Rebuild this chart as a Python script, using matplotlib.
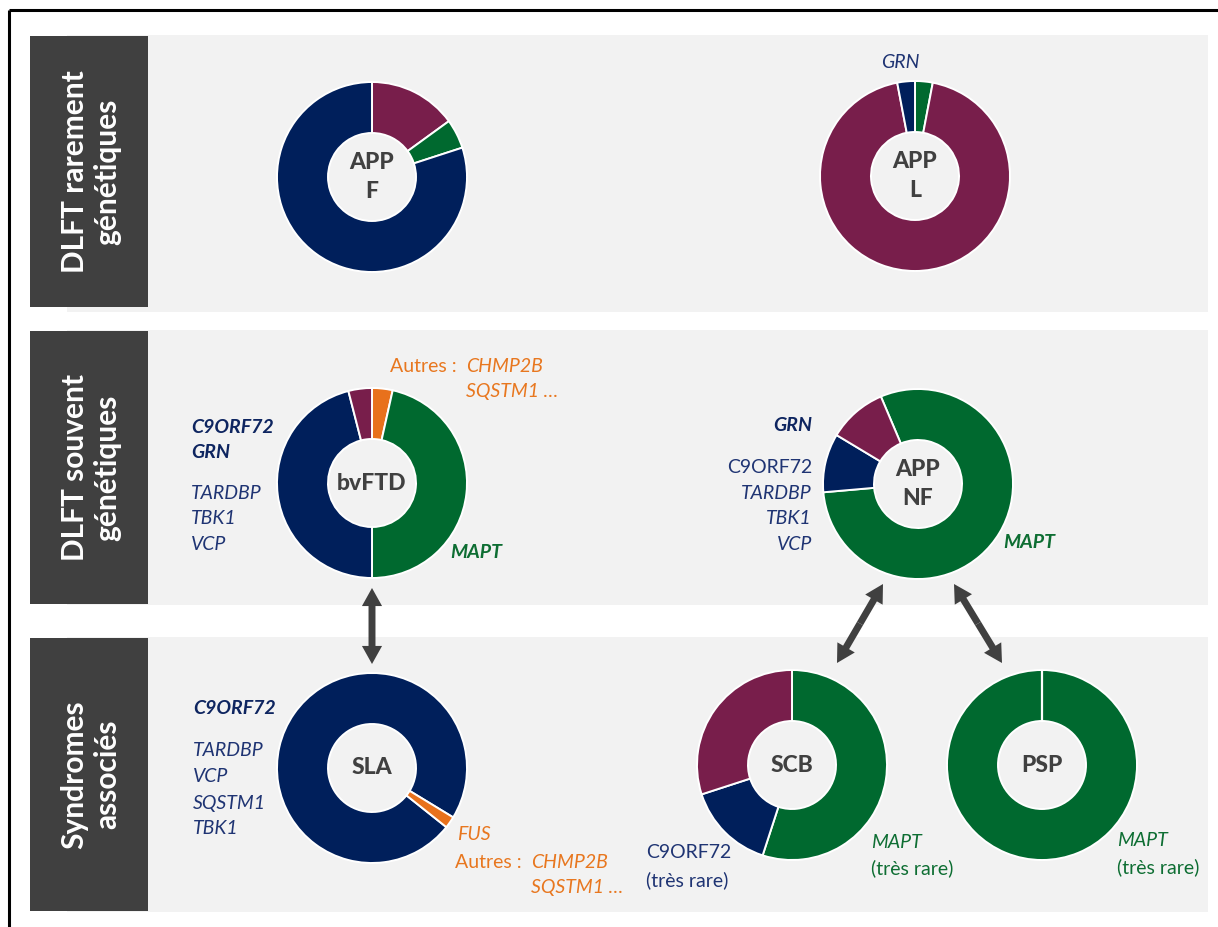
import matplotlib
matplotlib.use("Agg")
import numpy as np
import matplotlib.pyplot as plt
from matplotlib.patches import Rectangle, FancyArrowPatch

# ---------------- data ----------------
group_colors = {
    "bleu": "#001F5B",
    "bordeaux": "#781E4B",
    "vert": "#00692F",
    "orange": "#E8711C",
}

appf_values = [15, 5, 80]
appf_groups = ["bordeaux", "vert", "bleu"]

appl_values = [3, 94, 3]
appl_groups = ["vert", "bordeaux", "bleu"]

bvftd_values = [3.5, 46.5, 46, 4]
bvftd_groups = ["orange", "vert", "bleu", "bordeaux"]

appnf_values = [80, 10, 10]
appnf_groups = ["vert", "bleu", "bordeaux"]

sla_values = [98, 2]
sla_groups = ["bleu", "orange"]

scb_values = [55, 15, 30]
scb_groups = ["vert", "bleu", "bordeaux"]

psp_values = [100]
psp_groups = ["vert"]

row_labels = ["DLFT rarement\ngénétiques", "DLFT souvent\ngénétiques", "Syndromes\nassociés"]
center_labels = ["APP\nF", "APP\nL", "bvFTD", "APP\nNF", "SLA", "SCB", "PSP"]

# ---------------- layout ----------------
W, H = 1218, 927
FONT = "Lato"
GRAY = "#404040"
BAND = "#F2F2F2"
TXT_BLEU = "#1F3473"
TXT_BLEU_B = "#0E2560"
TXT_VERT = "#0E6E33"
TXT_ORANGE = "#E8771F"

R_OUT = 95
R_IN = 44


def Y(y):
    return H - y


fig = plt.figure(figsize=(W / 100, H / 100), dpi=100)
ax = fig.add_axes([0, 0, 1, 1])
ax.set_xlim(0, W)
ax.set_ylim(0, H)
ax.set_axis_off()

# frame (left & top edges visible)
ax.plot([9, 9], [Y(10), Y(H + 20)], color="black", lw=2.2, solid_capstyle="butt", zorder=5)
ax.plot([9, W + 20], [Y(10), Y(10)], color="black", lw=2.2, solid_capstyle="butt", zorder=5)

bands = [(35, 312), (330, 605), (637, 912)]
boxes = [(36, 307), (331, 604), (638, 911)]
for (bt, bb), (kt, kb), lab in zip(bands, boxes, row_labels):
    ax.add_patch(Rectangle((67, Y(bb)), 1208 - 67, bb - bt, facecolor=BAND, edgecolor="none", zorder=0))
    ax.add_patch(Rectangle((30, Y(kb)), 148 - 30, kb - kt, facecolor=GRAY, edgecolor="none", zorder=1))
    ax.text(91, Y((kt + kb) / 2), lab, rotation=90, ha="center", va="center",
            multialignment="center", color="white", fontsize=21.5, fontweight="bold",
            family=FONT, linespacing=1.2, zorder=3)


def donut(values, groups, cx, cy, start_cw, label, sep_line=False):
    cols = [group_colors[g] for g in groups]
    start = 90 - start_cw
    ax.pie(values, colors=cols, startangle=start, counterclock=False,
           radius=R_OUT, center=(cx, Y(cy)), frame=True,
           wedgeprops=dict(width=R_OUT - R_IN, edgecolor="white", linewidth=1.4))
    if sep_line:
        a = np.deg2rad(start)
        ax.plot([cx + R_IN * np.cos(a), cx + R_OUT * np.cos(a)],
                [Y(cy) + R_IN * np.sin(a), Y(cy) + R_OUT * np.sin(a)],
                color="white", lw=1.6, zorder=3)
    ax.text(cx, Y(cy), label, ha="center", va="center", color=GRAY, fontsize=16.5,
            fontweight="black", family=FONT, linespacing=1.45, zorder=4)


donut(appf_values, appf_groups, 372, 177, 0, center_labels[0])
donut(appl_values, appl_groups, 915, 176, 0, center_labels[1])
donut(bvftd_values, bvftd_groups, 372, 483, 0, center_labels[2])
donut(appnf_values, appnf_groups, 918, 484, -23, center_labels[3])
donut(sla_values, sla_groups, 372, 768, 128.5, center_labels[4])
donut(scb_values, scb_groups, 792, 765, 0, center_labels[5])
donut(psp_values, psp_groups, 1042, 765, 0, center_labels[6], sep_line=True)

ax.set_xlim(0, W)
ax.set_ylim(0, H)
ax.set_aspect("auto")
ax.set_axis_off()


def lab(x, y, s, color, ha="left", bold=False, italic=True, size=14):
    ax.text(x, Y(y), s, ha=ha, va="center", color=color, fontsize=size,
            fontweight="bold" if bold else "normal",
            fontstyle="italic" if italic else "normal", family=FONT, zorder=4)


# Row 1
lab(900, 62, "GRN", TXT_BLEU, ha="center")

# Row 2 - bvFTD
lab(390, 366, "Autres :", TXT_ORANGE, italic=False)
lab(466, 366, "CHMP2B", TXT_ORANGE)
lab(466, 391, "SQSTM1 …", TXT_ORANGE)
lab(191, 427, "C9ORF72", TXT_BLEU_B, bold=True)
lab(191, 452, "GRN", TXT_BLEU_B, bold=True)
lab(191, 493, "TARDBP", TXT_BLEU)
lab(191, 519, "TBK1", TXT_BLEU)
lab(191, 545, "VCP", TXT_BLEU)
lab(450, 552, "MAPT", TXT_VERT, bold=True)

# Row 2 - APP NF
lab(812, 425, "GRN", TXT_BLEU_B, ha="right", bold=True)
lab(812, 467, "C9ORF72", TXT_BLEU, ha="right", italic=False)
lab(812, 493, "TARDBP", TXT_BLEU, ha="right")
lab(812, 518, "TBK1", TXT_BLEU, ha="right")
lab(812, 544, "VCP", TXT_BLEU, ha="right")
lab(1003, 543, "MAPT", TXT_VERT, bold=True)

# Row 3 - SLA
lab(193, 709, "C9ORF72", TXT_BLEU_B, bold=True)
lab(193, 750, "TARDBP", TXT_BLEU)
lab(193, 776, "VCP", TXT_BLEU)
lab(193, 803, "SQSTM1", TXT_BLEU)
lab(193, 828, "TBK1", TXT_BLEU)
lab(457, 835, "FUS", TXT_ORANGE)
lab(455, 862, "Autres :", TXT_ORANGE, italic=False)
lab(531, 862, "CHMP2B", TXT_ORANGE)
lab(531, 887, "SQSTM1 …", TXT_ORANGE)

# Row 3 - SCB / PSP
lab(646, 853, "C9ORF72", TXT_BLEU, italic=False)
lab(646, 880, "(très rare)", TXT_BLEU, italic=False)
lab(871, 842, "MAPT", TXT_VERT)
lab(871, 868, "(très rare)", TXT_VERT, italic=False)
lab(1117, 840, "MAPT", TXT_VERT)
lab(1117, 867, "(très rare)", TXT_VERT, italic=False)

# double-headed arrows (two filled arrows from the middle outwards)
arrows = [((372, 588), (372, 664)), ((883, 584), (837, 663)), ((954, 584), (1002, 663))]
style = "simple,head_length=13,head_width=14.5,tail_width=5"
for (x1, y1), (x2, y2) in arrows:
    mx, my = (x1 + x2) / 2, (y1 + y2) / 2
    for (ex, ey) in [(x1, y1), (x2, y2)]:
        ax.add_patch(FancyArrowPatch((mx, Y(my)), (ex, Y(ey)), arrowstyle=style,
                                     mutation_scale=1, facecolor=GRAY, edgecolor="none",
                                     lw=0, shrinkA=0, shrinkB=0, zorder=4))

fig.savefig("out.png", dpi=100)
